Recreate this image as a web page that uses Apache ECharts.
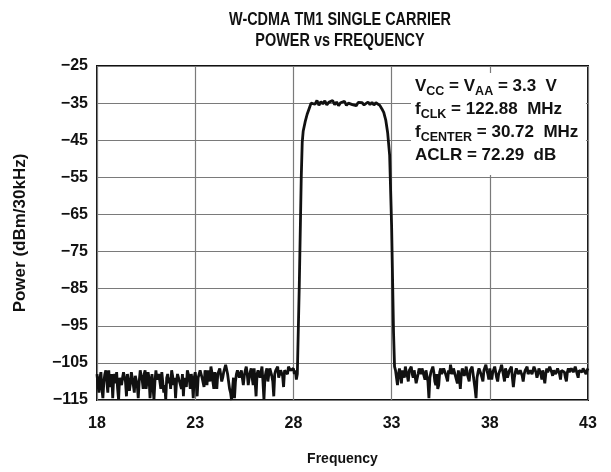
<!DOCTYPE html>
<html>
<head>
<meta charset="utf-8">
<script src="https://cdn.jsdelivr.net/npm/echarts@6/dist/echarts.min.js"></script>
<style>html,body{margin:0;padding:0;background:#fff}#c{width:611px;height:472px}</style>
</head>
<body>
<div id="c"></div>
<script>
// ---- data ----
const titleLines = ['W-CDMA TM1 SINGLE CARRIER', 'POWER vs FREQUENCY'];
const xTicks = [18, 23, 28, 33, 38, 43];
const yTicks = [-115, -105, -95, -85, -75, -65, -55, -45, -35, -25];

// noise floor below the carrier (MHz / dBm)
const freqLeft = [
 18.00,18.05,18.10,18.15,18.20,18.25,18.30,18.35,18.40,18.45,18.50,18.55,18.60,18.65,18.70,18.75,18.80,18.85,18.90,18.95,
 19.00,19.05,19.10,19.15,19.20,19.25,19.30,19.35,19.40,19.45,19.50,19.55,19.60,19.65,19.70,19.75,19.80,19.85,19.90,19.95,
 20.00,20.05,20.10,20.15,20.20,20.25,20.30,20.35,20.40,20.45,20.50,20.55,20.60,20.65,20.70,20.75,20.80,20.85,20.90,20.95,
 21.00,21.05,21.10,21.15,21.20,21.25,21.30,21.35,21.40,21.45,21.50,21.55,21.60,21.65,21.70,21.75,21.80,21.85,21.90,21.95,
 22.00,22.05,22.10,22.15,22.20,22.25,22.30,22.35,22.40,22.45,22.50,22.55,22.60,22.65,22.70,22.75,22.80,22.85,22.90,22.95,
 23.00,23.05,23.10,23.15,23.20,23.25,23.30,23.35,23.40,23.45,23.50,23.55,23.60,23.65,23.70,23.75,23.80,23.85,23.90,23.95,
 24.00,24.05,24.10,24.15,24.20,24.25,24.30,24.35,24.40,24.45,24.50,24.55,24.60,24.65,24.70,24.75,24.80,24.85,24.90,24.95,
 25.00,25.05,25.10,25.15,25.20,25.25,25.30,25.35,25.40,25.45,25.50,25.55,25.60,25.65,25.70,25.75,25.80,25.85,25.90,25.95,
 26.00,26.05,26.10,26.15,26.20,26.25,26.30,26.35,26.40,26.45,26.50,26.55,26.60,26.65,26.70,26.75,26.80,26.85,26.90,26.95,
 27.00,27.05,27.10,27.15,27.20,27.25,27.30,27.35,27.40,27.45,27.50,27.55,27.60,27.65,27.70,27.75,27.80,27.85,27.90,27.95,
 28.00,28.05,28.10,28.15
];
const powerLeft = [
 -108,-111,-113,-109,-107.5,-112,-114.5,-110,-108,-107,-110,-113,-107,-111.5,-112,-108,-114.5,-109,-108,-110.5,
 -107.5,-112,-115,-109,-108.5,-111,-109,-107.5,-107,-110,-114,-108,-108,-112.5,-110.5,-107.5,-107.5,-111,-113,-108.5,
 -108,-111,-114.5,-110,-107,-108.5,-109.5,-112,-108,-107,-112,-110,-107.5,-109,-114.5,-111,-108,-107.5,-115,-110,
 -107,-109.5,-110,-108,-108.5,-112,-107.5,-108,-113,-111,-115,-109,-108,-110.5,-109,-112,-107,-108.5,-111,-109,
 -114.5,-110,-108,-107.5,-107.5,-111,-112,-108,-114,-109,-108.5,-111.5,-107,-108,-109.5,-112,-108,-110,-114.5,-109,
 -107.5,-110,-114,-109,-108,-107,-106.5,-109,-109,-111.5,-107,-108.5,-111,-107,-108.5,-110,-106,-107.5,-110,-112,
 -107.5,-109,-112,-108,-108,-106.5,-106.5,-110,-109,-107.5,-107,-105.5,-105.5,-108,-110,-112,-113,-115,-115,-109,
 -114.5,-110,-108,-107,-106.5,-109,-109.5,-107,-107,-111,-108.5,-107,-106,-108,-111,-109,-107.5,-106.5,-109,-111,
 -106.5,-110,-114,-108,-107,-106.5,-109,-107.5,-106,-110,-115,-109,-107.5,-106.5,-110,-108,-106.5,-107,-108.5,-110,
 -114,-108,-107,-106.5,-106,-109,-109.5,-107,-107.5,-108.5,-111.5,-107,-106.5,-107.5,-108,-106,-106,-107,-107.5,-106.5,
 -106.5,-108,-107,-109.5
];

// carrier: rising edge, flat top, falling edge
const freqCarrier = [
 28.2,28.3,28.4,28.45,28.5,28.6,28.7,28.8,28.9,
 29.0,29.1,29.2,29.3,29.4,29.5,29.6,29.7,29.8,29.9,
 30.0,30.1,30.2,30.3,30.4,30.5,30.6,30.7,30.8,30.9,
 31.0,31.1,31.2,31.3,31.4,31.5,31.6,31.7,31.8,31.9,
 32.0,32.1,32.2,32.3,32.4,32.5,32.6,32.7,32.8,32.9,
 33.0,33.1,33.15
];
const powerCarrier = [
 -108,-84,-55,-45.5,-42.5,-40,-38,-36.5,-35,
 -34.5,-35.3,-34.3,-35.6,-34.6,-35.2,-34.4,-35.5,-34.8,-35.0,
 -34.3,-35.4,-34.7,-35.7,-34.9,-35.3,-34.5,-35.6,-35.0,-34.6,
 -35.4,-35.0,-35.7,-34.8,-35.3,-34.9,-35.5,-35.0,-34.7,-35.4,
 -34.8,-35.5,-34.9,-35.3,-35.6,-36.5,-37.5,-39.5,-43,-49,
 -68,-97,-106
];

// noise floor above the carrier
const freqRight = [
 33.20,33.25,33.30,33.35,33.40,33.45,33.50,33.55,33.60,33.65,33.70,33.75,33.80,33.85,33.90,33.95,
 34.00,34.05,34.10,34.15,34.20,34.25,34.30,34.35,34.40,34.45,34.50,34.55,34.60,34.65,34.70,34.75,34.80,34.85,34.90,34.95,
 35.00,35.05,35.10,35.15,35.20,35.25,35.30,35.35,35.40,35.45,35.50,35.55,35.60,35.65,35.70,35.75,35.80,35.85,35.90,35.95,
 36.00,36.05,36.10,36.15,36.20,36.25,36.30,36.35,36.40,36.45,36.50,36.55,36.60,36.65,36.70,36.75,36.80,36.85,36.90,36.95,
 37.00,37.05,37.10,37.15,37.20,37.25,37.30,37.35,37.40,37.45,37.50,37.55,37.60,37.65,37.70,37.75,37.80,37.85,37.90,37.95,
 38.00,38.05,38.10,38.15,38.20,38.25,38.30,38.35,38.40,38.45,38.50,38.55,38.60,38.65,38.70,38.75,38.80,38.85,38.90,38.95,
 39.00,39.05,39.10,39.15,39.20,39.25,39.30,39.35,39.40,39.45,39.50,39.55,39.60,39.65,39.70,39.75,39.80,39.85,39.90,39.95,
 40.00,40.05,40.10,40.15,40.20,40.25,40.30,40.35,40.40,40.45,40.50,40.55,40.60,40.65,40.70,40.75,40.80,40.85,40.90,40.95,
 41.00,41.05,41.10,41.15,41.20,41.25,41.30,41.35,41.40,41.45,41.50,41.55,41.60,41.65,41.70,41.75,41.80,41.85,41.90,41.95,
 42.00,42.05,42.10,42.15,42.20,42.25,42.30,42.35,42.40,42.45,42.50,42.55,42.60,42.65,42.70,42.75,42.80,42.85,42.90,42.95,
 43.00
];
const powerRight = [
 -107,-109,-111,-108,-106.5,-108,-110.5,-107,-107.5,-109,-106,-107.5,-108.5,-110,-107,-106.5,
 -106,-108,-109,-107,-107.5,-110.5,-110.5,-108,-106.5,-107,-108,-106.5,-106,-108.5,-109.5,-107,-107,-110,-114.5,-109,
 -107.5,-108,-106,-107.5,-110,-111,-108,-112,-111,-107.5,-106.5,-108,-107.5,-106.5,-106,-108,-109,-110,-107,-108,
 -105.5,-107,-108,-106.5,-106.5,-108.5,-109.5,-110.5,-107,-109,-112,-108,-106.5,-107,-108.5,-107.5,-106,-108,-109,-110,
 -107,-106.5,-106,-108,-110,-112,-114.5,-109,-107.5,-106.5,-106,-108,-109,-110,-107,-106.5,-105.5,-107,-108,-109.5,
 -106.5,-108,-109.5,-107.5,-107,-106,-106,-109,-110,-108,-107.5,-106.5,-105.5,-107,-108.5,-110,-106.5,-107.5,-109,-108,
 -107,-106.5,-106,-109,-111.5,-109,-107.5,-106.5,-106,-108,-108.5,-107,-106.5,-108.5,-110,-108,-107,-106.5,-106,-108,
 -108.5,-107,-106.5,-108,-107.5,-106,-105.5,-107.5,-109,-108,-106.5,-107,-108,-109.5,-107,-106.5,-110.5,-108,-106.5,-107.5,
 -107,-106,-105.5,-107.5,-108.5,-107,-106.5,-108,-107.5,-106.5,-106,-108,-109.5,-107,-106.5,-107,-107.5,-109,-110,-107.5,
 -106.5,-107.5,-108,-106.5,-106,-107.5,-107,-106,-105.5,-108,-109,-107,-106.5,-107.5,-107.5,-106.5,-106,-107,-108,-107,
 -106.5
];

// ---- build chart ----
const freqAll = freqLeft.concat(freqCarrier, freqRight);
const powerAll = powerLeft.concat(powerCarrier, powerRight);
const seriesData = freqAll.map((f, i) => [f, powerAll[i]]);

const FONT = '"Liberation Sans", Arial, Helvetica, sans-serif';
const chart = echarts.init(document.getElementById('c'), null, {renderer: 'canvas'});
const minus = v => String(v).replace('-', '\u2212');

chart.setOption({
  animation: false,
  backgroundColor: '#fff',
  grid: {left: 97, right: 23, top: 66, bottom: 72, show: true, borderColor: '#111', borderWidth: 2, backgroundColor: 'transparent'},
  xAxis: {
    type: 'value', min: xTicks[0], max: xTicks[xTicks.length - 1], interval: 5,
    name: 'Frequency', nameLocation: 'middle', nameGap: 52,
    nameTextStyle: {fontFamily: FONT, fontWeight: 'bold', fontSize: 14, color: '#111'},
    axisLine: {show: false}, axisTick: {show: false},
    axisLabel: {fontFamily: FONT, fontWeight: 'bold', fontSize: 16, color: '#111', margin: 16},
    splitLine: {show: true, lineStyle: {color: '#7a7a7a', width: 1.2}}
  },
  yAxis: {
    type: 'value', min: yTicks[0], max: yTicks[yTicks.length - 1], interval: 10,
    name: 'Power (dBm/30kHz)', nameLocation: 'middle', nameGap: 68, nameRotate: 90,
    nameTextStyle: {fontFamily: FONT, fontWeight: 'bold', fontSize: 17, color: '#111'},
    axisLine: {show: false}, axisTick: {show: false},
    axisLabel: {fontFamily: FONT, fontWeight: 'bold', fontSize: 16, color: '#111', margin: 9, formatter: minus},
    splitLine: {show: true, lineStyle: {color: '#7a7a7a', width: 1.2}}
  },
  series: [{
    type: 'line', data: seriesData, showSymbol: false, symbol: 'none',
    lineStyle: {color: '#111', width: 2.8}, z: 5
  }],
  graphic: [
    {type: 'text', x: 340, y: 9, scaleX: 0.76, z: 60,
     style: {text: titleLines.join('\n'), textAlign: 'center', fill: '#111',
             fontFamily: FONT, fontWeight: 'bold', fontSize: 19, lineHeight: 21}},
    {type: 'rect', shape: {x: 411, y: 73, width: 175, height: 102}, style: {fill: '#fff'}, z: 50},
    {type: 'text', x: 415, y: 75, z: 51,
     style: {
       text: '{b|V}{s|CC}{b| = V}{s|AA}{b| = 3.3  V}\n{b|f}{s|CLK}{b| = 122.88  MHz}\n{b|f}{s|CENTER}{b| = 30.72  MHz}\n{b|ACLR = 72.29  dB}',
       fill: '#111',
       rich: {
         b: {fontFamily: FONT, fontWeight: 'bold', fontSize: 17, lineHeight: 23, fill: '#111'},
         s: {fontFamily: FONT, fontWeight: 'bold', fontSize: 12.5, lineHeight: 23, padding: [10, 0, 0, 0], fill: '#111'}
       }
     }}
  ]
});
</script>
</body>
</html>
